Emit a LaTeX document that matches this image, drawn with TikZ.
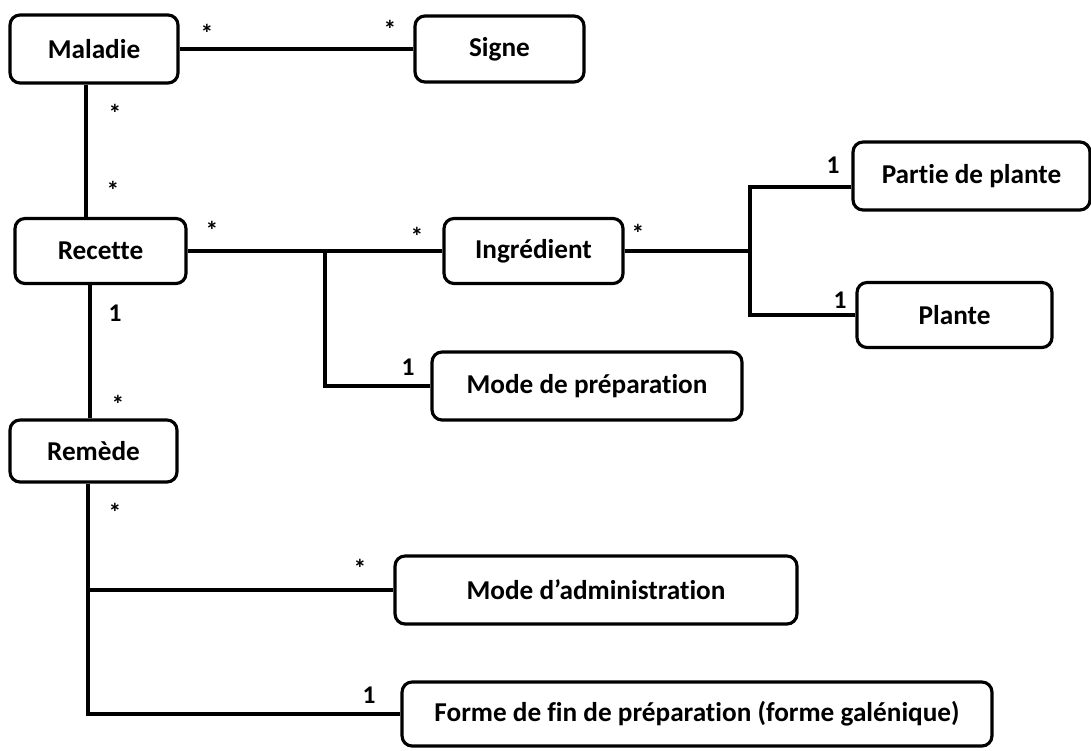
\documentclass[tikz,border=0pt]{standalone}
\usepackage{fontspec}
\setmainfont[RawFeature={-liga}]{Carlito}
\begin{document}
\begin{tikzpicture}[x=0.02cm, y=-0.02cm,
  box/.style={draw, line width=1.8pt, rounded corners=0.2cm, inner sep=0pt,
    font=\fontsize{15.5}{18}\selectfont\bfseries},
  link/.style={line width=1.8pt},
  mult/.style={inner sep=0pt, font=\fontsize{14.5}{16}\selectfont\bfseries}]
\useasboundingbox (0,0) rectangle (1091,750);
% boxes
\node[box, minimum width=3.36cm, minimum height=1.36cm] (Maladie) at (94,49) {Maladie};
\node[box, minimum width=3.38cm, minimum height=1.32cm] (Signe) at (499.5,49) {Signe};
\node[box, minimum width=3.42cm, minimum height=1.30cm] (Recette) at (100.5,251) {Recette};
\node[box, minimum width=3.58cm, minimum height=1.30cm] (Ingredient) at (533.5,251) {Ingrédient};
\node[box, minimum width=4.74cm, minimum height=1.36cm] (Partie) at (971.5,176) {Partie de plante};
\node[box, minimum width=3.90cm, minimum height=1.30cm] (Plante) at (954.5,315) {Plante};
\node[box, minimum width=6.20cm, minimum height=1.36cm] (ModePrep) at (587,386) {Mode de préparation};
\node[box, minimum width=3.34cm, minimum height=1.24cm] (Remede) at (93.5,451) {Remède};
\node[box, minimum width=8.04cm, minimum height=1.36cm] (Admin) at (596,590) {Mode d’administration};
\node[box, minimum width=11.8cm, minimum height=1.28cm] (Forme) at (697,714) {Forme de fin de préparation (forme galénique)};
% helper coordinates
\coordinate (v1) at (86,0);
\coordinate (v2) at (90,0);
\coordinate (v3) at (88,0);
\coordinate (J1) at (325,251);
\coordinate (J2) at (750,251);
\coordinate (p1) at (0,187);
% connectors
\draw[link] (Maladie.east) -- (Signe.west);
\draw[link] (Maladie.south -| v1) -- (Recette.north -| v1);
\draw[link] (Recette.east) -- (Ingredient.west);
\draw[link] (J1) |- (ModePrep.west);
\draw[link] (Ingredient.east) -- (J2);
\draw[link] (Partie.west |- p1) -| (J2) |- (Plante.west);
\draw[link] (Recette.south -| v2) -- (Remede.north -| v2);
\draw[link] (Remede.south -| v3) |- (Forme.west);
\draw[link] (Admin.west) -- (Admin.west -| v3);
% multiplicities
\node[mult] (m1) at (207,33) {*};
\node[mult] (m2) at (390,29) {*};
\node[mult] (m3) at (115,113) {*};
\node[mult] (m4) at (113,190) {*};
\node[mult] (m5) at (212,230) {*};
\node[mult] (m6) at (417,236) {*};
\node[mult] (m7) at (638,233) {*};
\node[mult] (m8) at (833,165) {1};
\node[mult] (m9) at (840,300) {1};
\node[mult] (m10) at (408,367) {1};
\node[mult] (m11) at (115,313) {1};
\node[mult] (m12) at (118,404) {*};
\node[mult] (m13) at (115,512) {*};
\node[mult] (m14) at (360,568) {*};
\node[mult] (m15) at (369,695) {1};
\end{tikzpicture}
\end{document}
